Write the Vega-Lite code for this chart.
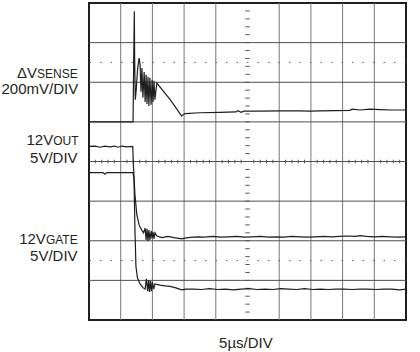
{
  "$schema": "https://vega.github.io/schema/vega-lite/v6.json",
  "width": 317,
  "height": 317,
  "autosize": {"type": "none"},
  "padding": {"left": 89, "top": 3, "right": 14, "bottom": 32},
  "background": "white",
  "config": {"view": {"stroke": "#1f1f1f", "strokeWidth": 2}},
  "datasets": {
    "vgrid": [{"x": 1}, {"x": 2}, {"x": 3}, {"x": 4}, {"x": 6}, {"x": 7}, {"x": 8}, {"x": 9}],
    "hgrid": [{"y": 1}, {"y": 2}, {"y": 3}, {"y": 4}, {"y": 5}, {"y": 6}, {"y": 7}],
    "dotted": [{"y": 1.5}, {"y": 6.5}],
    "htick": [
      {"x": 0.2}, {"x": 0.4}, {"x": 0.6}, {"x": 0.8}, {"x": 1.2}, {"x": 1.4}, {"x": 1.6}, {"x": 1.8},
      {"x": 2.2}, {"x": 2.4}, {"x": 2.6}, {"x": 2.8}, {"x": 3.2}, {"x": 3.4}, {"x": 3.6}, {"x": 3.8},
      {"x": 4.2}, {"x": 4.4}, {"x": 4.6}, {"x": 4.8}, {"x": 5.2}, {"x": 5.4}, {"x": 5.6}, {"x": 5.8},
      {"x": 6.2}, {"x": 6.4}, {"x": 6.6}, {"x": 6.8}, {"x": 7.2}, {"x": 7.4}, {"x": 7.6}, {"x": 7.8},
      {"x": 8.2}, {"x": 8.4}, {"x": 8.6}, {"x": 8.8}, {"x": 9.2}, {"x": 9.4}, {"x": 9.6}, {"x": 9.8}
    ],
    "vtick": [
      {"y": 0.2}, {"y": 0.4}, {"y": 0.6}, {"y": 0.8}, {"y": 1}, {"y": 1.2}, {"y": 1.4}, {"y": 1.6}, {"y": 1.8}, {"y": 2},
      {"y": 2.2}, {"y": 2.4}, {"y": 2.6}, {"y": 2.8}, {"y": 3}, {"y": 3.2}, {"y": 3.4}, {"y": 3.6}, {"y": 3.8},
      {"y": 4.2}, {"y": 4.4}, {"y": 4.6}, {"y": 4.8}, {"y": 5}, {"y": 5.2}, {"y": 5.4}, {"y": 5.6}, {"y": 5.8}, {"y": 6},
      {"y": 6.2}, {"y": 6.4}, {"y": 6.6}, {"y": 6.8}, {"y": 7}, {"y": 7.2}, {"y": 7.4}, {"y": 7.6}, {"y": 7.8}
    ],
    "traces": [
      {"s": "sense", "t": 0, "v": 5.0}, {"s": "sense", "t": 1.39, "v": 5.0}, {"s": "sense", "t": 1.41, "v": 6.57},
      {"s": "sense", "t": 1.43, "v": 7.79}, {"s": "sense", "t": 1.44, "v": 6.57}, {"s": "sense", "t": 1.46, "v": 5.56},
      {"s": "sense", "t": 1.49, "v": 5.81}, {"s": "sense", "t": 1.53, "v": 6.31}, {"s": "sense", "t": 1.58, "v": 6.61},
      {"s": "sense", "t": 1.61, "v": 6.46}, {"s": "sense", "t": 1.64, "v": 5.76}, {"s": "sense", "t": 1.67, "v": 6.36},
      {"s": "sense", "t": 1.70, "v": 5.61}, {"s": "sense", "t": 1.74, "v": 6.26}, {"s": "sense", "t": 1.77, "v": 5.50},
      {"s": "sense", "t": 1.80, "v": 6.19}, {"s": "sense", "t": 1.83, "v": 5.45}, {"s": "sense", "t": 1.86, "v": 6.14},
      {"s": "sense", "t": 1.89, "v": 5.40}, {"s": "sense", "t": 1.92, "v": 6.11}, {"s": "sense", "t": 1.96, "v": 5.43},
      {"s": "sense", "t": 1.99, "v": 6.06}, {"s": "sense", "t": 2.02, "v": 5.50}, {"s": "sense", "t": 2.05, "v": 6.04},
      {"s": "sense", "t": 2.08, "v": 5.56}, {"s": "sense", "t": 2.14, "v": 5.98}, {"s": "sense", "t": 2.56, "v": 5.56},
      {"s": "sense", "t": 2.92, "v": 5.15}, {"s": "sense", "t": 3.03, "v": 5.21}, {"s": "sense", "t": 3.50, "v": 5.23},
      {"s": "sense", "t": 4.13, "v": 5.24}, {"s": "sense", "t": 4.64, "v": 5.25}, {"s": "sense", "t": 4.70, "v": 5.28},
      {"s": "sense", "t": 4.80, "v": 5.24}, {"s": "sense", "t": 4.89, "v": 5.27}, {"s": "sense", "t": 4.98, "v": 5.27},
      {"s": "sense", "t": 5.39, "v": 5.27}, {"s": "sense", "t": 6.03, "v": 5.28}, {"s": "sense", "t": 6.66, "v": 5.28},
      {"s": "sense", "t": 6.97, "v": 5.27}, {"s": "sense", "t": 7.29, "v": 5.28}, {"s": "sense", "t": 8.23, "v": 5.29},
      {"s": "sense", "t": 8.30, "v": 5.32}, {"s": "sense", "t": 8.55, "v": 5.30}, {"s": "sense", "t": 8.86, "v": 5.32},
      {"s": "sense", "t": 9.18, "v": 5.31}, {"s": "sense", "t": 9.56, "v": 5.30}, {"s": "sense", "t": 10.0, "v": 5.30},

      {"s": "out", "t": 0, "v": 4.38}, {"s": "out", "t": 0.19, "v": 4.39}, {"s": "out", "t": 0.35, "v": 4.36},
      {"s": "out", "t": 0.50, "v": 4.39}, {"s": "out", "t": 0.66, "v": 4.37}, {"s": "out", "t": 0.82, "v": 4.39},
      {"s": "out", "t": 0.91, "v": 4.36}, {"s": "out", "t": 1.04, "v": 4.39}, {"s": "out", "t": 1.20, "v": 4.37},
      {"s": "out", "t": 1.38, "v": 4.38}, {"s": "out", "t": 1.40, "v": 3.91}, {"s": "out", "t": 1.45, "v": 3.16},
      {"s": "out", "t": 1.51, "v": 2.65}, {"s": "out", "t": 1.58, "v": 2.40}, {"s": "out", "t": 1.66, "v": 2.27},
      {"s": "out", "t": 1.72, "v": 2.20}, {"s": "out", "t": 1.77, "v": 2.32}, {"s": "out", "t": 1.80, "v": 2.02},
      {"s": "out", "t": 1.83, "v": 2.30}, {"s": "out", "t": 1.86, "v": 1.99}, {"s": "out", "t": 1.89, "v": 2.27},
      {"s": "out", "t": 1.92, "v": 2.02}, {"s": "out", "t": 1.96, "v": 2.25}, {"s": "out", "t": 1.99, "v": 2.05},
      {"s": "out", "t": 2.02, "v": 2.22}, {"s": "out", "t": 2.05, "v": 2.05}, {"s": "out", "t": 2.08, "v": 2.20},
      {"s": "out", "t": 2.14, "v": 2.12}, {"s": "out", "t": 2.30, "v": 2.08}, {"s": "out", "t": 2.49, "v": 2.11},
      {"s": "out", "t": 2.68, "v": 2.08}, {"s": "out", "t": 2.92, "v": 2.05}, {"s": "out", "t": 3.12, "v": 2.08},
      {"s": "out", "t": 3.40, "v": 2.10}, {"s": "out", "t": 3.65, "v": 2.09}, {"s": "out", "t": 3.90, "v": 2.11},
      {"s": "out", "t": 4.15, "v": 2.09}, {"s": "out", "t": 4.40, "v": 2.10}, {"s": "out", "t": 4.65, "v": 2.11},
      {"s": "out", "t": 4.90, "v": 2.09}, {"s": "out", "t": 5.15, "v": 2.10}, {"s": "out", "t": 5.40, "v": 2.11},
      {"s": "out", "t": 5.65, "v": 2.09}, {"s": "out", "t": 5.90, "v": 2.10}, {"s": "out", "t": 6.15, "v": 2.09},
      {"s": "out", "t": 6.40, "v": 2.11}, {"s": "out", "t": 6.65, "v": 2.10}, {"s": "out", "t": 6.90, "v": 2.09},
      {"s": "out", "t": 7.15, "v": 2.10}, {"s": "out", "t": 7.40, "v": 2.11}, {"s": "out", "t": 7.65, "v": 2.10},
      {"s": "out", "t": 7.90, "v": 2.11}, {"s": "out", "t": 8.15, "v": 2.12}, {"s": "out", "t": 8.40, "v": 2.11},
      {"s": "out", "t": 8.55, "v": 2.13}, {"s": "out", "t": 8.75, "v": 2.11}, {"s": "out", "t": 9.00, "v": 2.10},
      {"s": "out", "t": 9.25, "v": 2.11}, {"s": "out", "t": 9.50, "v": 2.10}, {"s": "out", "t": 9.75, "v": 2.09},
      {"s": "out", "t": 10.0, "v": 2.10},

      {"s": "gate", "t": 0, "v": 3.72}, {"s": "gate", "t": 0.25, "v": 3.72}, {"s": "gate", "t": 0.44, "v": 3.72},
      {"s": "gate", "t": 0.50, "v": 3.68}, {"s": "gate", "t": 0.56, "v": 3.72}, {"s": "gate", "t": 1.00, "v": 3.72},
      {"s": "gate", "t": 1.39, "v": 3.72}, {"s": "gate", "t": 1.42, "v": 3.54}, {"s": "gate", "t": 1.45, "v": 2.27},
      {"s": "gate", "t": 1.48, "v": 1.36}, {"s": "gate", "t": 1.53, "v": 1.06}, {"s": "gate", "t": 1.61, "v": 0.91},
      {"s": "gate", "t": 1.71, "v": 0.81}, {"s": "gate", "t": 1.77, "v": 0.78}, {"s": "gate", "t": 1.81, "v": 1.04},
      {"s": "gate", "t": 1.85, "v": 0.73}, {"s": "gate", "t": 1.88, "v": 1.01}, {"s": "gate", "t": 1.91, "v": 0.71},
      {"s": "gate", "t": 1.94, "v": 0.98}, {"s": "gate", "t": 1.97, "v": 0.73}, {"s": "gate", "t": 2.00, "v": 0.96},
      {"s": "gate", "t": 2.04, "v": 0.78}, {"s": "gate", "t": 2.08, "v": 0.91}, {"s": "gate", "t": 2.24, "v": 0.88},
      {"s": "gate", "t": 2.40, "v": 0.86}, {"s": "gate", "t": 2.56, "v": 0.85}, {"s": "gate", "t": 2.74, "v": 0.81},
      {"s": "gate", "t": 2.92, "v": 0.76}, {"s": "gate", "t": 3.06, "v": 0.78}, {"s": "gate", "t": 3.30, "v": 0.78},
      {"s": "gate", "t": 3.55, "v": 0.77}, {"s": "gate", "t": 3.80, "v": 0.79}, {"s": "gate", "t": 4.05, "v": 0.77},
      {"s": "gate", "t": 4.30, "v": 0.78}, {"s": "gate", "t": 4.55, "v": 0.76}, {"s": "gate", "t": 4.80, "v": 0.78},
      {"s": "gate", "t": 5.05, "v": 0.79}, {"s": "gate", "t": 5.30, "v": 0.77}, {"s": "gate", "t": 5.55, "v": 0.78},
      {"s": "gate", "t": 5.80, "v": 0.77}, {"s": "gate", "t": 6.05, "v": 0.79}, {"s": "gate", "t": 6.30, "v": 0.78},
      {"s": "gate", "t": 6.55, "v": 0.77}, {"s": "gate", "t": 6.80, "v": 0.79}, {"s": "gate", "t": 7.05, "v": 0.77},
      {"s": "gate", "t": 7.30, "v": 0.78}, {"s": "gate", "t": 7.55, "v": 0.77}, {"s": "gate", "t": 7.80, "v": 0.78},
      {"s": "gate", "t": 8.05, "v": 0.78}, {"s": "gate", "t": 8.30, "v": 0.77}, {"s": "gate", "t": 8.55, "v": 0.78},
      {"s": "gate", "t": 8.80, "v": 0.78}, {"s": "gate", "t": 9.05, "v": 0.77}, {"s": "gate", "t": 9.30, "v": 0.78},
      {"s": "gate", "t": 9.55, "v": 0.78}, {"s": "gate", "t": 9.80, "v": 0.76}, {"s": "gate", "t": 10.0, "v": 0.78}
    ],
    "mainLabels": [
      {"text": "ΔV", "x": -1.64, "y": 6.11},
      {"text": "200mV/DIV", "x": -0.34, "y": 5.70},
      {"text": "12V", "x": -1.13, "y": 4.41},
      {"text": "5V/DIV", "x": -0.36, "y": 3.96},
      {"text": "12V", "x": -1.36, "y": 1.93},
      {"text": "5V/DIV", "x": -0.36, "y": 1.48}
    ],
    "subLabels": [
      {"text": "SENSE", "x": -1.64, "y": 6.11},
      {"text": "OUT", "x": -1.13, "y": 4.41},
      {"text": "GATE", "x": -1.36, "y": 1.93}
    ],
    "xLabel": [{"text": "5µs/DIV", "x": 4.95, "y": -0.715}]
  },
  "layer": [
    {
      "data": {"name": "vgrid"},
      "mark": {"type": "rule", "color": "#777777", "strokeWidth": 1},
      "encoding": {"x": {"field": "x", "type": "quantitative", "scale": {"domain": [0, 10], "nice": false, "zero": false}, "axis": null}}
    },
    {
      "data": {"name": "hgrid"},
      "mark": {"type": "rule", "color": "#505050", "strokeWidth": 1},
      "encoding": {"y": {"field": "y", "type": "quantitative", "scale": {"domain": [0, 8], "nice": false, "zero": false}, "axis": null}}
    },
    {
      "data": {"name": "dotted"},
      "mark": {"type": "rule", "color": "#666666", "strokeWidth": 1, "strokeDash": [1.5, 9]},
      "encoding": {"y": {"field": "y", "type": "quantitative"}}
    },
    {
      "data": {"name": "htick"},
      "mark": {"type": "rule", "color": "#555555", "strokeWidth": 1},
      "encoding": {
        "x": {"field": "x", "type": "quantitative"},
        "y": {"datum": 3.955},
        "y2": {"datum": 4.045}
      }
    },
    {
      "data": {"name": "vtick"},
      "mark": {"type": "rule", "color": "#555555", "strokeWidth": 1},
      "encoding": {
        "y": {"field": "y", "type": "quantitative"},
        "x": {"datum": 4.93},
        "x2": {"datum": 5.07}
      }
    },
    {
      "data": {"name": "traces"},
      "mark": {"type": "line", "color": "#1e1e1e", "strokeWidth": 1.2, "clip": true},
      "encoding": {
        "x": {"field": "t", "type": "quantitative"},
        "y": {"field": "v", "type": "quantitative"},
        "detail": {"field": "s", "type": "nominal"}
      }
    },
    {
      "data": {"name": "mainLabels"},
      "mark": {"type": "text", "align": "right", "baseline": "alphabetic", "font": "Liberation Sans", "fontSize": 15, "color": "#231f20"},
      "encoding": {
        "x": {"field": "x", "type": "quantitative"},
        "y": {"field": "y", "type": "quantitative"},
        "text": {"field": "text", "type": "nominal"}
      }
    },
    {
      "data": {"name": "subLabels"},
      "mark": {"type": "text", "align": "left", "baseline": "alphabetic", "font": "Liberation Sans", "fontSize": 12, "color": "#231f20"},
      "encoding": {
        "x": {"field": "x", "type": "quantitative"},
        "y": {"field": "y", "type": "quantitative"},
        "text": {"field": "text", "type": "nominal"}
      }
    },
    {
      "data": {"name": "xLabel"},
      "mark": {"type": "text", "align": "center", "baseline": "alphabetic", "font": "Liberation Sans", "fontSize": 15, "color": "#231f20"},
      "encoding": {
        "x": {"field": "x", "type": "quantitative"},
        "y": {"field": "y", "type": "quantitative"},
        "text": {"field": "text", "type": "nominal"}
      }
    }
  ]
}
